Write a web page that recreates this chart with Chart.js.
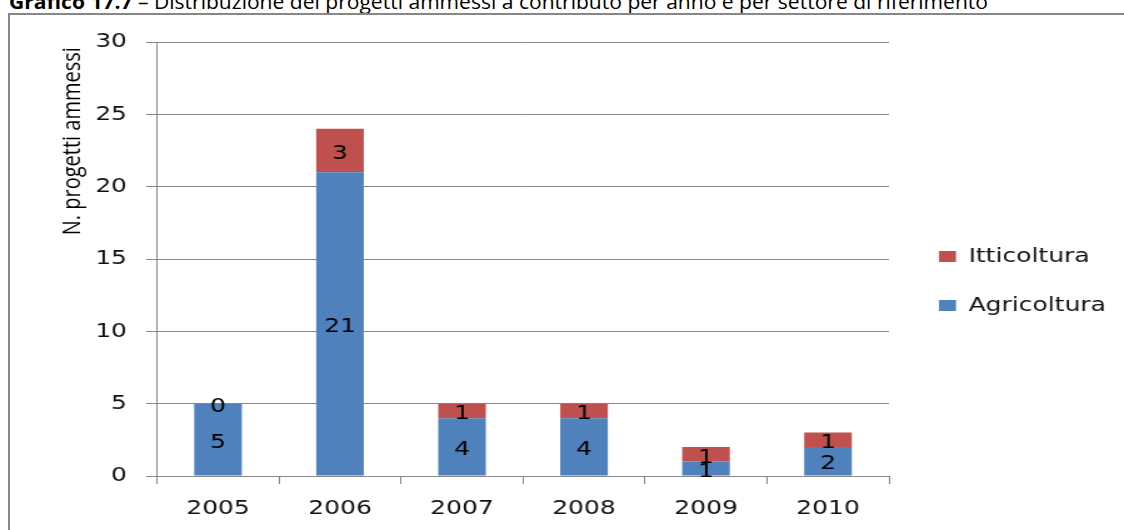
<!DOCTYPE html>
<html>
<head>
<meta charset="utf-8">
<script src="https://cdn.jsdelivr.net/npm/chart.js@4.4.1/dist/chart.umd.min.js"></script>
<style>
  html, body { margin: 0; padding: 0; background: #fff; }
  body { width: 1124px; height: 530px; position: relative; overflow: hidden; }
  #caption { position: absolute; left: 9px; top: -8px; font: 20px/20px 'Open Sans', sans-serif; color: #000; white-space: nowrap; transform-origin: 0 0; }
  #frame { position: absolute; left: 8px; top: 13px; width: 1200px; height: 600px; border: 2px solid #878787; }
  #wrap { position: absolute; left: 0; top: 0; height: 530px; transform-origin: 0 0; }
</style>
</head>
<body>
<div id="caption"><b>Grafico 17.7</b> – Distribuzione dei progetti ammessi a contributo per anno e per settore di riferimento</div>
<div id="frame"></div>
<div id="wrap"><canvas id="chart"></canvas></div>
<script>
// data
const years = ['2005', '2006', '2007', '2008', '2009', '2010'];
const agricoltura = [5, 21, 4, 4, 1, 2];
const itticoltura = [0, 3, 1, 1, 1, 1];
const yTicks = [0, 5, 10, 15, 20, 25, 30];

// the original picture is stretched sideways, so the canvas is drawn narrower and scaled up
const SX = 1.25;
const W = Math.round(1124 / SX);
const sx = 1124 / W;
const px = v => v / sx;   // page x -> canvas x

const wrap = document.getElementById('wrap');
wrap.style.width = W + 'px';
wrap.style.transform = 'scaleX(' + sx + ')';

const caption = document.getElementById('caption');
caption.style.transform = 'scaleX(' + (979 / caption.getBoundingClientRect().width) + ')';

const GRID = '#868686';
const TEXT = '#111';
const tickFont = { family: 'DejaVu Sans', size: 20 };

const LEG_PAD = 29;
const LEG_DX = px(939 - 889) - LEG_PAD;
const LEG_DY = -5;

// legend sits in a fixed slot to the right of the plot
const legendPlace = {
  id: 'legendPlace',
  beforeInit(chart) {
    const fit = chart.legend.fit;
    chart.legend.fit = function () {
      fit.call(this);
      this.width = W - px(889);
    };
  },
  afterLayout(chart) {
    const lg = chart.legend;
    lg.left += LEG_DX; lg.right += LEG_DX;
    lg.top += LEG_DY; lg.bottom += LEG_DY;
  }
};

// value labels in the middle of each segment
const barValues = {
  id: 'barValues',
  afterDatasetsDraw(chart) {
    const ctx = chart.ctx;
    ctx.save();
    ctx.font = '20px "DejaVu Sans"';
    ctx.fillStyle = '#000';
    ctx.textAlign = 'center';
    ctx.textBaseline = 'middle';
    chart.data.datasets.forEach((ds, i) => {
      chart.getDatasetMeta(i).data.forEach((bar, j) => {
        const { x, y, base } = bar.getProps(['x', 'y', 'base'], true);
        ctx.fillText(ds.data[j], x, (y + base) / 2 + 3);
      });
    });
    ctx.restore();
  }
};

new Chart(document.getElementById('chart'), {
  type: 'bar',
  data: {
    labels: years,
    datasets: [
      { label: 'Agricoltura', data: agricoltura, backgroundColor: '#4F81BD', borderWidth: 0 },
      { label: 'Itticoltura', data: itticoltura, backgroundColor: '#C0504D', borderWidth: 0 }
    ]
  },
  options: {
    responsive: true,
    maintainAspectRatio: false,
    animation: false,
    events: [],
    layout: { padding: { top: 42, left: 0, right: 0, bottom: 0 } },
    datasets: { bar: { barPercentage: 0.39, categoryPercentage: 1 } },
    scales: {
      x: {
        stacked: true,
        grid: { drawOnChartArea: false, tickLength: 8, color: GRID },
        border: { color: GRID },
        ticks: { font: tickFont, color: TEXT, padding: 13 },
        afterFit: s => { s.height = 54; }
      },
      y: {
        stacked: true,
        min: 0,
        max: 30,
        afterBuildTicks: s => { s.ticks = yTicks.map(v => ({ value: v })); },
        grid: { color: GRID, tickLength: px(11) },
        border: { color: GRID },
        ticks: { font: tickFont, color: TEXT, padding: px(19) },
        title: {
          display: true,
          text: 'N. progetti ammessi ',
          align: 'end',
          color: '#000',
          font: { family: 'Open Sans', size: 20 },
          padding: { top: 46, bottom: 0 }
        },
        afterFit: s => { s.width = px(157); }
      }
    },
    plugins: {
      legend: {
        position: 'right',
        reverse: true,
        labels: { boxWidth: px(17), boxHeight: 11, padding: LEG_PAD, font: tickFont, color: TEXT }
      },
      tooltip: { enabled: false }
    }
  },
  plugins: [legendPlace, barValues]
});
</script>
</body>
</html>
